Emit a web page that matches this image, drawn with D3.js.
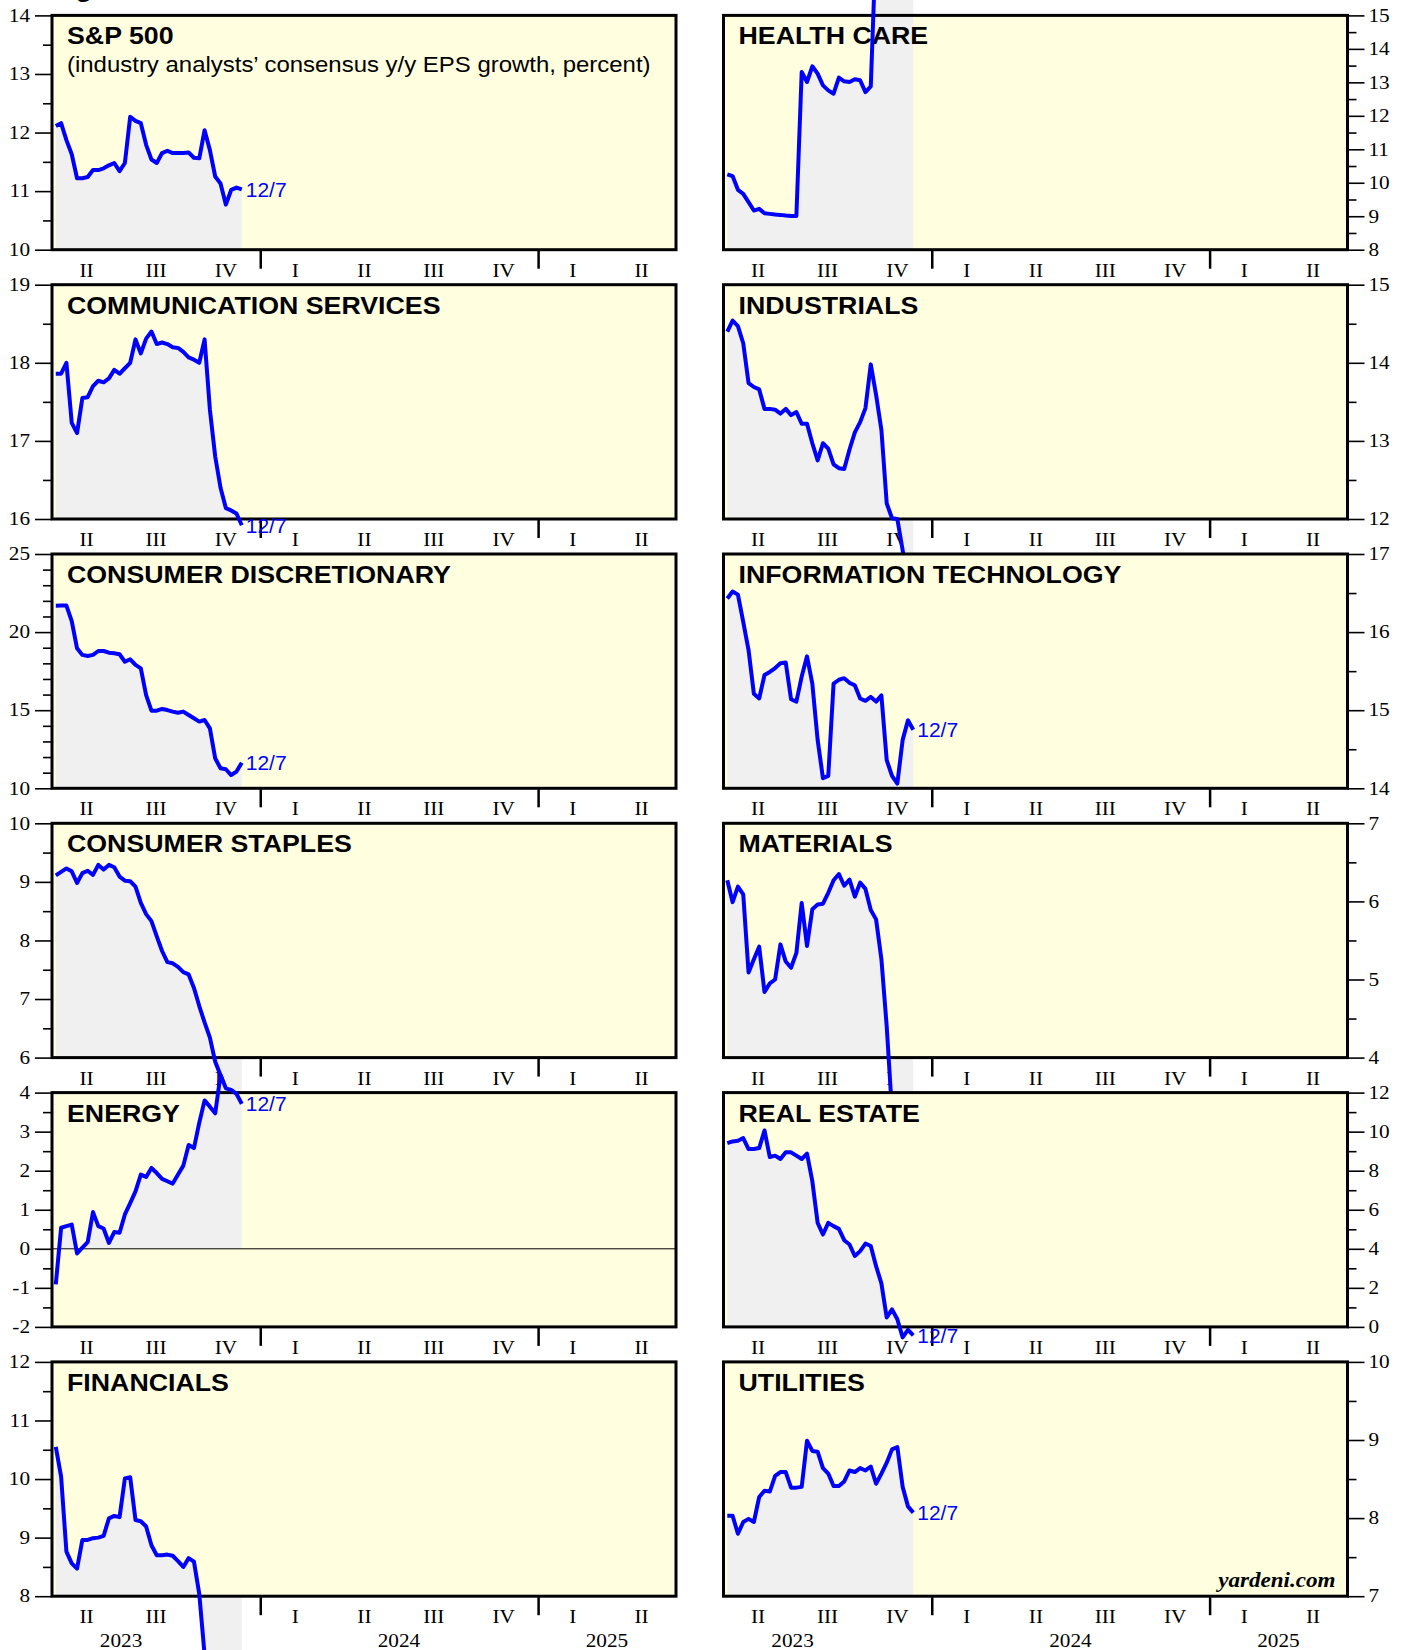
<!DOCTYPE html>
<html>
<head>
<meta charset="utf-8">
<script src="https://cdn.jsdelivr.net/npm/d3@7"></script>
<style>
  body { margin: 0; background: #fff; }
  svg { display: block; }
</style>
</head>
<body>
<svg id="chart" width="1407" height="1650"></svg>
<script>
/* S&P 500 sectors – consensus y/y EPS growth, weekly, small multiples */

const W = 1407, H = 1650;

// weekly observations: first week of April 2023 up to 12/7
const FIRST_WEEK = new Date(2023, 3, 6);
const N_WEEKS = 36;
const X_DOMAIN = [new Date(2023, 3, 1), new Date(2025, 6, 1)];

const QUARTER_LABELS = ["II", "III", "IV", "I", "II", "III", "IV", "I", "II"];
const YEAR_LABELS = ["2023", "2024", "2025"];
const YEAR_LABEL_AT = [new Date(2023, 6, 1), new Date(2024, 6, 1), new Date(2025, 3, 1)];
const LAST_LABEL = "12/7";

/* ---------- series (percent) ---------- */
const SP500 = [12.11, 12.16, 11.87, 11.63, 11.22, 11.22, 11.24, 11.36, 11.36, 11.39, 11.44, 11.48,
  11.34, 11.48, 12.27, 12.2, 12.16, 11.79, 11.54, 11.48, 11.65, 11.69, 11.65, 11.65,
  11.65, 11.66, 11.57, 11.56, 12.04, 11.7, 11.25, 11.13, 10.77, 11.02, 11.06, 11.03];
const HEALTH_CARE = [10.25, 10.2, 9.79, 9.67, 9.42, 9.17, 9.22, 9.09, 9.07, 9.05, 9.04, 9.02,
  9.01, 9.01, 13.31, 13.01, 13.48, 13.26, 12.91, 12.76, 12.66, 13.14, 13.03, 13.01,
  13.09, 13.06, 12.71, 12.88, 17.3, 17.5, 17.6, 17.5, 17.6, 17.5, 17.4, 17.4];
const COMM_SERVICES = [17.86, 17.86, 18.0, 17.23, 17.1, 17.55, 17.56, 17.7, 17.77, 17.75, 17.8, 17.91,
  17.86, 17.93, 18.0, 18.3, 18.12, 18.31, 18.4, 18.24, 18.26, 18.24, 18.2, 18.19,
  18.14, 18.07, 18.04, 18.0, 18.3, 17.4, 16.8, 16.4, 16.14, 16.11, 16.07, 15.92];
const INDUSTRIALS = [14.4, 14.54, 14.47, 14.25, 13.74, 13.69, 13.66, 13.41, 13.41, 13.4, 13.35, 13.41,
  13.33, 13.37, 13.22, 13.22, 12.97, 12.75, 12.97, 12.9, 12.7, 12.65, 12.64, 12.89,
  13.11, 13.24, 13.42, 13.98, 13.59, 13.14, 12.2, 12.01, 12.0, 11.6, 11.2, 11.0];
const CONS_DISC = [21.69, 21.7, 21.7, 20.7, 18.96, 18.54, 18.47, 18.54, 18.79, 18.79, 18.68, 18.64,
  18.58, 18.1, 18.26, 17.9, 17.68, 15.97, 14.97, 14.97, 15.08, 15.01, 14.91, 14.84,
  14.91, 14.69, 14.48, 14.27, 14.37, 13.84, 11.92, 11.28, 11.22, 10.85, 11.07, 11.64];
const INFO_TECH = [16.43, 16.52, 16.48, 16.13, 15.77, 15.21, 15.15, 15.45, 15.49, 15.54, 15.6, 15.61,
  15.14, 15.11, 15.43, 15.69, 15.34, 14.62, 14.13, 14.16, 15.34, 15.39, 15.41, 15.35,
  15.32, 15.15, 15.12, 15.17, 15.11, 15.19, 14.36, 14.16, 14.06, 14.62, 14.87, 14.75];
const CONS_STAPLES = [9.11, 9.17, 9.23, 9.18, 8.98, 9.15, 9.19, 9.12, 9.29, 9.21, 9.29, 9.25,
  9.09, 9.02, 9.01, 8.92, 8.64, 8.45, 8.33, 8.07, 7.82, 7.63, 7.61, 7.55,
  7.46, 7.42, 7.19, 6.88, 6.6, 6.34, 5.93, 5.7, 5.45, 5.4, 5.3, 5.1];
const MATERIALS = [6.27, 5.99, 6.19, 6.09, 5.09, 5.26, 5.42, 4.84, 4.95, 5.0, 5.45, 5.23,
  5.15, 5.34, 5.98, 5.43, 5.9, 5.96, 5.97, 6.11, 6.27, 6.35, 6.2, 6.28,
  6.06, 6.24, 6.16, 5.89, 5.77, 5.26, 4.4, 3.3, 3.0, 2.9, 2.8, 2.8];
const ENERGY = [-0.91, 0.54, 0.58, 0.62, -0.12, 0.03, 0.17, 0.94, 0.58, 0.52, 0.15, 0.43,
  0.41, 0.88, 1.17, 1.47, 1.9, 1.84, 2.07, 1.94, 1.79, 1.73, 1.67, 1.9,
  2.13, 2.66, 2.58, 3.23, 3.8, 3.64, 3.47, 4.45, 4.11, 4.07, 3.97, 3.71];
const REAL_ESTATE = [9.41, 9.5, 9.53, 9.67, 9.11, 9.11, 9.16, 10.06, 8.7, 8.77, 8.6, 8.94,
  8.94, 8.77, 8.6, 8.87, 7.46, 5.33, 4.73, 5.33, 5.16, 5.02, 4.44, 4.22,
  3.63, 3.88, 4.27, 4.14, 3.11, 2.23, 0.48, 0.9, 0.39, -0.54, -0.15, -0.43];
const FINANCIALS = [10.55, 10.04, 8.76, 8.56, 8.47, 8.96, 8.96, 8.99, 9.0, 9.03, 9.33, 9.37,
  9.35, 10.01, 10.03, 9.3, 9.28, 9.19, 8.87, 8.7, 8.7, 8.71, 8.69, 8.6,
  8.5, 8.65, 8.59, 8.04, 7.0, 6.8, 6.7, 6.6, 6.5, 6.5, 6.4, 6.4];
const UTILITIES = [8.03, 8.03, 7.8, 7.95, 7.99, 7.95, 8.27, 8.35, 8.34, 8.54, 8.59, 8.59,
  8.39, 8.39, 8.4, 8.99, 8.86, 8.85, 8.64, 8.57, 8.41, 8.41, 8.47, 8.61,
  8.59, 8.64, 8.61, 8.66, 8.44, 8.57, 8.71, 8.88, 8.91, 8.4, 8.15, 8.07];

/* ---------- panels, read left to right, top to bottom ---------- */
const PANELS = [
  { title: "S&P 500", sub: "(industry analysts\u2019 consensus y/y EPS growth, percent)", values: SP500, domain: [10, 14], major: 1, minor: 0.5 },
  { title: "HEALTH CARE", values: HEALTH_CARE, domain: [8, 15], major: 1, minor: 0.5 },
  { title: "COMMUNICATION SERVICES", values: COMM_SERVICES, domain: [16, 19], major: 1, minor: 0.5 },
  { title: "INDUSTRIALS", values: INDUSTRIALS, domain: [12, 15], major: 1, minor: 0.5 },
  { title: "CONSUMER DISCRETIONARY", values: CONS_DISC, domain: [10, 25], major: 5, minor: 1 },
  { title: "INFORMATION TECHNOLOGY", values: INFO_TECH, domain: [14, 17], major: 1, minor: 0.5 },
  { title: "CONSUMER STAPLES", values: CONS_STAPLES, domain: [6, 10], major: 1, minor: 0.5 },
  { title: "MATERIALS", values: MATERIALS, domain: [4, 7], major: 1, minor: 0.5 },
  { title: "ENERGY", values: ENERGY, domain: [-2, 4], major: 1, minor: 0.5, zero: true },
  { title: "REAL ESTATE", values: REAL_ESTATE, domain: [0, 12], major: 2, minor: 1 },
  { title: "FINANCIALS", values: FINANCIALS, domain: [8, 12], major: 1, minor: 0.5 },
  { title: "UTILITIES", values: UTILITIES, domain: [7, 10], major: 1, minor: 0.5, credit: true },
];

/* ---------- layout ---------- */
const COL_X = [52, 723.5];
const PANEL_W = 624;
const PANEL_H = 234.3;
const ROW_Y0 = 15.4;
const ROW_STEP = 269.3;

const BG = "#ffffe0";
const SHADE = "#f0f0f0";
const LINE = "#0000ff";
const SERIF = "'Liberation Serif', 'Times New Roman', serif";
const SANS = "'Liberation Sans', Arial, sans-serif";
// the original lettering is drawn a little wide
const SANS_SX = 1.115;
const SERIF_SX = 1.18;

// move x/y into a transform so the glyphs can be widened around their anchor
function widen(sel, sx) {
  sel.each(function () {
    const t = d3.select(this);
    const tx = +t.attr("x") || 0, ty = +t.attr("y") || 0;
    t.attr("x", 0).attr("y", 0).attr("transform", `translate(${tx},${ty}) scale(${sx},1)`);
  });
  return sel;
}

const svg = d3.select("#chart");
svg.append("rect").attr("width", W).attr("height", H).attr("fill", "#fff");

// cut-off heading at the very top
widen(svg.append("text")
  .attr("x", 52).attr("y", -3)
  .attr("font-family", SANS).attr("font-weight", "bold").attr("font-size", 24)
  .text("Figure 1."), SANS_SX);

const x = d3.scaleTime().domain(X_DOMAIN).range([0, PANEL_W]);
const weeks = d3.range(N_WEEKS).map((i) => d3.timeWeek.offset(FIRST_WEEK, i));
const quarters = d3.timeMonth.every(3).range(X_DOMAIN[0], X_DOMAIN[1]);
const yearStarts = d3.timeYear.range(X_DOMAIN[0], X_DOMAIN[1]);
const nRows = PANELS.length / 2;

function drawPanel(p, idx) {
  const col = idx % 2;
  const row = Math.floor(idx / 2);
  const g = svg.append("g")
    .attr("transform", `translate(${COL_X[col]},${ROW_Y0 + row * ROW_STEP})`);

  const y = d3.scaleLinear().domain(p.domain).range([PANEL_H, 0]);
  const data = weeks.map((d, i) => ({ date: d, v: p.values[i] }));

  g.append("rect").attr("width", PANEL_W).attr("height", PANEL_H).attr("fill", BG);

  // value axis: majors with labels, minors bare
  const majors = d3.range(p.domain[0], p.domain[1] + 1e-9, p.major);
  const minors = d3.range(p.domain[0], p.domain[1] + 1e-9, p.minor)
    .filter((v) => Math.abs(v / p.major - Math.round(v / p.major)) > 1e-6);
  const mk = col === 0 ? d3.axisLeft : d3.axisRight;
  const ax = g.append("g")
    .attr("transform", `translate(${col === 0 ? 0 : PANEL_W},0)`)
    .call(mk(y).tickValues(majors).tickSize(17).tickPadding(5).tickFormat((v) => String(v)));
  const axMinor = g.append("g")
    .attr("transform", `translate(${col === 0 ? 0 : PANEL_W},0)`)
    .call(mk(y).tickValues(minors).tickSize(9).tickFormat(""));
  for (const a of [ax, axMinor]) {
    a.select(".domain").remove();
    a.selectAll(".tick line").attr("stroke", "#000").attr("stroke-width", 1.6);
  }
  widen(ax.selectAll(".tick text")
    .attr("x", col === 0 ? -22 : 21)
    .attr("font-family", SERIF).attr("font-size", 18).attr("fill", "#000"), SERIF_SX);

  // time axis: quarter names + year boundaries
  widen(g.selectAll("text.q")
    .data(quarters)
    .join("text")
    .attr("class", "q")
    .attr("x", (q) => x(new Date((+q + +d3.timeMonth.offset(q, 3)) / 2)))
    .attr("y", PANEL_H + 27)
    .attr("text-anchor", "middle")
    .attr("font-family", SERIF).attr("font-size", 18)
    .text((q, i) => QUARTER_LABELS[i]), SERIF_SX);

  g.selectAll("line.yr")
    .data(yearStarts)
    .join("line")
    .attr("class", "yr")
    .attr("x1", (d) => x(d)).attr("x2", (d) => x(d))
    .attr("y1", PANEL_H + 1).attr("y2", PANEL_H + 19)
    .attr("stroke", "#000").attr("stroke-width", 2.5);

  if (row === nRows - 1) {
    widen(g.selectAll("text.yl")
      .data(YEAR_LABELS)
      .join("text")
      .attr("class", "yl")
      .attr("x", (d, i) => x(YEAR_LABEL_AT[i]))
      .attr("y", PANEL_H + 51)
      .attr("text-anchor", "middle")
      .attr("font-family", SERIF).attr("font-size", 18)
      .text((d) => d), SERIF_SX);
  }

  // shaded history down to the frame floor (or zero), not clipped
  const floor = y(Math.max(p.domain[0], 0));
  g.append("path")
    .datum(data)
    .attr("fill", SHADE)
    .attr("d", d3.area().x((d) => x(d.date)).y0(floor).y1((d) => y(d.v)));

  g.append("rect")
    .attr("width", PANEL_W).attr("height", PANEL_H)
    .attr("fill", "none").attr("stroke", "#000").attr("stroke-width", 3);

  widen(g.append("text")
    .attr("x", 15).attr("y", 29)
    .attr("font-family", SANS).attr("font-weight", "bold").attr("font-size", 24)
    .text(p.title), SANS_SX);
  if (p.sub) {
    widen(g.append("text")
      .attr("x", 15).attr("y", 57)
      .attr("font-family", SANS).attr("font-size", 21.5)
      .text(p.sub), SANS_SX);
  }

  if (p.zero) {
    g.append("line")
      .attr("x1", 0).attr("x2", PANEL_W)
      .attr("y1", y(0)).attr("y2", y(0))
      .attr("stroke", "#000").attr("stroke-width", 1);
  }

  g.append("path")
    .datum(data)
    .attr("fill", "none")
    .attr("stroke", LINE).attr("stroke-width", 4)
    .attr("stroke-linejoin", "round")
    .attr("d", d3.line().x((d) => x(d.date)).y((d) => y(d.v)));

  const last = data[data.length - 1];
  g.append("text")
    .attr("x", x(last.date) + 4).attr("y", y(last.v))
    .attr("dy", "0.36em")
    .attr("font-family", SANS).attr("font-size", 21).attr("fill", LINE)
    .text(LAST_LABEL);

  if (p.credit) {
    widen(g.append("text")
      .attr("x", PANEL_W - 12).attr("y", PANEL_H - 9)
      .attr("text-anchor", "end")
      .attr("font-family", SERIF).attr("font-weight", "bold").attr("font-style", "italic")
      .attr("font-size", 21)
      .text("yardeni.com"), 1.1);
  }
}

PANELS.forEach(drawPanel);
</script>
</body>
</html>
